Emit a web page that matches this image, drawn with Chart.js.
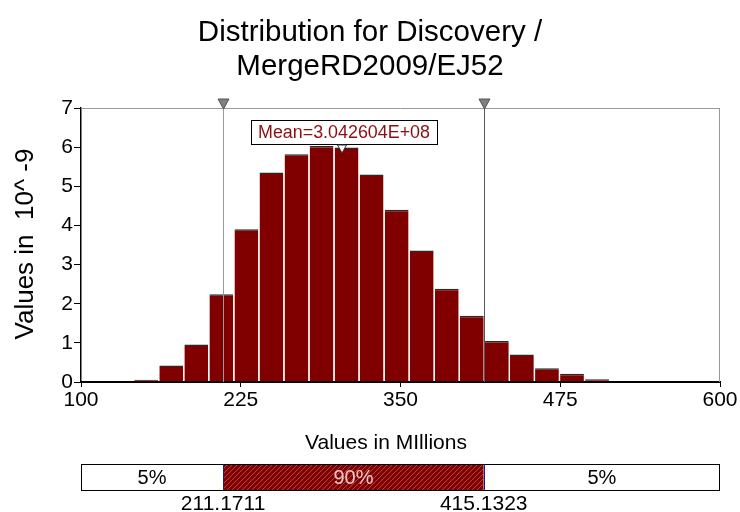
<!DOCTYPE html>
<html>
<head>
<meta charset="utf-8">
<script src="https://cdn.jsdelivr.net/npm/chart.js@4/dist/chart.umd.min.js"></script>
<style>
  body { margin: 0; background: #fff; }
  #wrap { width: 740px; height: 512px; }
</style>
</head>
<body>
<div id="wrap"><canvas id="histChart" width="740" height="512"></canvas></div>
<script>
// --- DATA ---
const titleLines = ['Distribution for Discovery /', 'MergeRD2009/EJ52'];
const binCenters = [151.0, 170.6, 190.2, 209.8, 229.4, 249.0, 268.6, 288.2, 307.8, 327.4,
                    347.0, 366.6, 386.2, 405.8, 425.4, 445.0, 464.6, 484.2, 503.8];
const density = [0.06, 0.42, 0.96, 2.24, 3.90, 5.35, 5.82, 6.03, 5.99, 5.30,
                 4.40, 3.36, 2.38, 1.69, 1.05, 0.70, 0.35, 0.21, 0.07];
const xTickValues = [100, 225, 350, 475, 600];
const yTickValues = [0, 1, 2, 3, 4, 5, 6, 7];
const pLow = 211.1711;
const pHigh = 415.1323;
const meanValue = 304.2604;
const meanLabel = 'Mean=3.042604E+08';
const bandLabels = ['5%', '90%', '5%'];
const bandValueLabels = ['211.1711', '415.1323'];

const FONT = "'Liberation Sans', Arial, sans-serif";
const BAR_RED = '#800000';

function downTriangle(ctx, x, yTop, w, h, fill, stroke) {
    ctx.beginPath();
    ctx.moveTo(x - w / 2, yTop);
    ctx.lineTo(x + w / 2, yTop);
    ctx.lineTo(x, yTop + h);
    ctx.closePath();
    ctx.fillStyle = fill;
    ctx.fill();
    if (stroke) {
        ctx.strokeStyle = stroke;
        ctx.lineWidth = 1;
        ctx.stroke();
    }
}

// overlay: percentile lines, markers, mean label, titles, band bar
const overlayPlugin = {
    id: 'overlay',
    afterDatasetsDraw(chart) {
        const { ctx, chartArea: a, scales: { x } } = chart;
        const xl = x.getPixelForValue(pLow);
        const xh = x.getPixelForValue(pHigh);
        ctx.save();

        // plot frame (top + right)
        ctx.strokeStyle = '#999';
        ctx.lineWidth = 1;
        ctx.beginPath();
        ctx.moveTo(a.left, a.top + 0.5);
        ctx.lineTo(a.right, a.top + 0.5);
        ctx.moveTo(a.right - 0.5, a.top);
        ctx.lineTo(a.right - 0.5, a.bottom);
        ctx.stroke();

        // percentile lines
        ctx.strokeStyle = '#9a9a9a';
        [xl, xh].forEach(px => {
            ctx.beginPath();
            ctx.moveTo(Math.round(px) + 0.5, a.top);
            ctx.lineTo(Math.round(px) + 0.5, a.bottom);
            ctx.stroke();
            downTriangle(ctx, Math.round(px) + 0.5, a.top - 9, 11, 10, '#808080', '#555');
        });

        // mean label
        const mx = x.getPixelForValue(meanValue);
        ctx.font = '18px ' + FONT;
        const bx = 251, bw = 186, by = 120, bh = 24;
        ctx.fillStyle = '#fff';
        ctx.fillRect(bx, by, bw, bh);
        ctx.strokeStyle = '#000';
        ctx.strokeRect(bx + 0.5, by + 0.5, bw, bh);
        ctx.fillStyle = '#8b1010';
        ctx.textAlign = 'center';
        ctx.textBaseline = 'middle';
        ctx.fillText(meanLabel, bx + bw / 2, by + bh / 2 + 1, bw - 14);
        downTriangle(ctx, mx, by + bh + 1, 9, 8, '#fff', '#333');
        ctx.restore();
    },
    afterDraw(chart) {
        const { ctx, chartArea: a, scales: { x } } = chart;
        ctx.save();
        ctx.fillStyle = '#000';
        ctx.textAlign = 'center';
        ctx.textBaseline = 'alphabetic';

        // title
        ctx.font = '29.5px ' + FONT;
        ctx.fillText(titleLines[0], 370, 41);
        ctx.fillText(titleLines[1], 370, 75);

        // y title
        ctx.save();
        ctx.translate(33, 244);
        ctx.rotate(-Math.PI / 2);
        ctx.font = '26px ' + FONT;
        ctx.fillText('Values in  10^ -9', 0, 0);
        ctx.restore();

        // x title
        ctx.font = '21px ' + FONT;
        ctx.fillText('Values in MIllions', 386, 449);

        // band bar
        const xl = x.getPixelForValue(pLow);
        const xh = x.getPixelForValue(pHigh);
        const top = 464, h = 26;
        ctx.fillStyle = '#fff';
        ctx.fillRect(a.left, top, a.right - a.left, h);

        ctx.save();
        ctx.beginPath();
        ctx.rect(xl, top, xh - xl, h);
        ctx.clip();
        ctx.fillStyle = BAR_RED;
        ctx.fillRect(xl, top, xh - xl, h);
        ctx.strokeStyle = '#b04848';
        ctx.lineWidth = 1;
        for (let i = xl - h; i < xh + h; i += 5) {
            ctx.beginPath();
            ctx.moveTo(i, top + h);
            ctx.lineTo(i + h, top);
            ctx.stroke();
        }
        ctx.restore();

        ctx.strokeStyle = '#000';
        ctx.lineWidth = 1;
        ctx.strokeRect(a.left + 0.5, top + 0.5, a.right - a.left - 1, h);
        ctx.strokeStyle = '#1a1a80';
        [xl, xh].forEach(px => {
            ctx.beginPath();
            ctx.moveTo(Math.round(px) + 0.5, top);
            ctx.lineTo(Math.round(px) + 0.5, top + h);
            ctx.stroke();
        });

        ctx.textBaseline = 'middle';
        ctx.font = '20px ' + FONT;
        const mid = top + h / 2 + 1;
        ctx.fillStyle = '#000';
        ctx.fillText(bandLabels[0], (a.left + xl) / 2, mid);
        ctx.fillStyle = '#e8c8c8';
        ctx.fillText(bandLabels[1], (xl + xh) / 2, mid);
        ctx.fillStyle = '#000';
        ctx.fillText(bandLabels[2], (xh + a.right) / 2, mid);

        ctx.font = '21px ' + FONT;
        ctx.fillText(bandValueLabels[0], xl, top + h + 14);
        ctx.fillText(bandValueLabels[1], xh, top + h + 14);
        ctx.restore();
    }
};

new Chart(document.getElementById('histChart'), {
    type: 'bar',
    data: {
        datasets: [{
            data: binCenters.map((c, i) => ({ x: c, y: density[i] })),
            backgroundColor: BAR_RED,
            borderColor: '#2a2a2a',
            borderWidth: { top: 1.5, left: 0, right: 0, bottom: 0 },
            borderSkipped: false,
            barPercentage: 0.95,
            categoryPercentage: 1.0
        }]
    },
    options: {
        responsive: false,
        animation: false,
        layout: { padding: { left: 0, top: 108, right: 20, bottom: 100 } },
        plugins: { legend: { display: false }, tooltip: { enabled: false } },
        scales: {
            x: {
                type: 'linear',
                min: 100,
                max: 600,
                offset: false,
                afterBuildTicks: s => { s.ticks = xTickValues.map(v => ({ value: v })); },
                afterFit: s => { s.height = 30; },
                grid: { offset: false, drawOnChartArea: false, drawTicks: true, tickLength: 5, color: '#000' },
                border: { display: true, color: '#000', width: 2 },
                ticks: { color: '#000', padding: 1, maxRotation: 0, font: { family: FONT, size: 21 } }
            },
            y: {
                min: 0,
                max: 7,
                afterBuildTicks: s => { s.ticks = yTickValues.map(v => ({ value: v })); },
                afterFit: s => { s.width = 81; },
                grid: { drawOnChartArea: false, drawTicks: true, tickLength: 7, color: '#000' },
                border: { display: true, color: '#000', width: 1.5 },
                ticks: { color: '#000', padding: 1, font: { family: FONT, size: 21 } }
            }
        }
    },
    plugins: [overlayPlugin]
});
</script>
</body>
</html>
